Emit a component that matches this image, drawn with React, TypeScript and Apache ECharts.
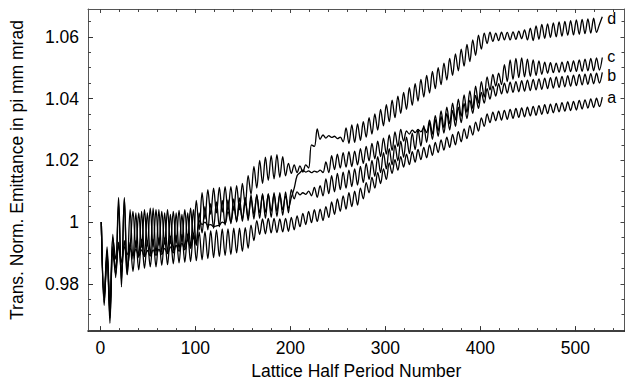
import React, { useEffect, useRef } from "react";
import * as echarts from "echarts";

// Lattice half period number sampled every X_STEP half periods, starting at X_START
const X_START = 1;
const X_STEP = 3.03;

const seriesNames = ["a", "b", "c", "d"];

const emitA = [
  1.0000, 0.9730, 0.9910, 0.9690, 0.9905, 0.9830, 0.9935, 0.9835, 0.9940, 0.9830,
  0.9935, 0.9840, 0.9940, 0.9845, 0.9945, 0.9850, 0.9940, 0.9855, 0.9945, 0.9855,
  0.9950, 0.9860, 0.9950, 0.9862, 0.9955, 0.9865, 0.9958, 0.9868, 0.9960, 0.9870,
  0.9962, 0.9872, 0.9965, 0.9875, 0.9968, 0.9878, 0.9970, 0.9882, 0.9972, 0.9885,
  0.9975, 0.9888, 0.9978, 0.9892, 0.9978, 0.9895, 0.9980, 0.9900, 0.9980, 0.9905,
  0.9982, 0.9915, 0.9990, 0.9940, 1.0005, 0.9960, 1.0010, 0.9962, 1.0012, 0.9965,
  1.0012, 0.9966, 1.0010, 0.9968, 1.0012, 0.9970, 1.0015, 0.9975, 1.0020, 0.9985,
  1.0028, 0.9992, 1.0035, 0.9998, 1.0040, 1.0002, 1.0042, 1.0005, 1.0050, 1.0015,
  1.0065, 1.0025, 1.0075, 1.0035, 1.0085, 1.0042, 1.0095, 1.0050, 1.0100, 1.0055,
  1.0110, 1.0075, 1.0128, 1.0095, 1.0145, 1.0110, 1.0160, 1.0125, 1.0172, 1.0138,
  1.0192, 1.0158, 1.0202, 1.0168, 1.0212, 1.0178, 1.0220, 1.0186, 1.0228, 1.0194,
  1.0235, 1.0202, 1.0242, 1.0208, 1.0250, 1.0216, 1.0258, 1.0225, 1.0266, 1.0233,
  1.0275, 1.0242, 1.0284, 1.0250, 1.0293, 1.0260, 1.0302, 1.0270, 1.0312, 1.0282,
  1.0324, 1.0295, 1.0337, 1.0310, 1.0350, 1.0322, 1.0356, 1.0328, 1.0359, 1.0330,
  1.0362, 1.0333, 1.0365, 1.0336, 1.0368, 1.0339, 1.0370, 1.0341, 1.0372, 1.0344,
  1.0375, 1.0346, 1.0377, 1.0349, 1.0380, 1.0351, 1.0382, 1.0354, 1.0384, 1.0357,
  1.0387, 1.0359, 1.0389, 1.0361, 1.0391, 1.0363, 1.0394, 1.0366, 1.0396, 1.0369,
  1.0399, 1.0371, 1.0401, 1.0374, 1.0405,
];

const emitB = [
  1.0000, 0.9755, 0.9890, 0.9710, 0.9920, 0.9850, 0.9925, 0.9870, 0.9920, 0.9895,
  0.9915, 0.9892, 0.9912, 0.9890, 0.9910, 0.9888, 0.9908, 0.9890, 0.9910, 0.9892,
  0.9912, 0.9895, 0.9915, 0.9898, 0.9920, 0.9900, 0.9925, 0.9905, 0.9932, 0.9910,
  0.9945, 0.9915, 0.9960, 0.9925, 1.0030, 0.9965, 1.0050, 0.9975, 1.0060, 0.9980,
  1.0065, 0.9985, 1.0070, 0.9990, 1.0072, 0.9995, 1.0075, 1.0000, 1.0078, 1.0002,
  1.0080, 1.0005, 1.0088, 1.0010, 1.0090, 1.0012, 1.0092, 1.0012, 1.0092, 1.0015,
  1.0095, 1.0018, 1.0095, 1.0022, 1.0098, 1.0030, 1.0105, 1.0075, 1.0098, 1.0088,
  1.0095, 1.0090, 1.0100, 1.0085, 1.0112, 1.0080, 1.0118, 1.0085, 1.0140, 1.0092,
  1.0150, 1.0098, 1.0158, 1.0105, 1.0162, 1.0110, 1.0168, 1.0115, 1.0172, 1.0120,
  1.0180, 1.0128, 1.0190, 1.0138, 1.0200, 1.0148, 1.0212, 1.0160, 1.0225, 1.0172,
  1.0238, 1.0185, 1.0250, 1.0198, 1.0262, 1.0210, 1.0275, 1.0222, 1.0288, 1.0235,
  1.0300, 1.0246, 1.0312, 1.0258, 1.0322, 1.0268, 1.0332, 1.0278, 1.0342, 1.0288,
  1.0352, 1.0298, 1.0362, 1.0310, 1.0372, 1.0322, 1.0384, 1.0335, 1.0395, 1.0352,
  1.0410, 1.0368, 1.0420, 1.0385, 1.0432, 1.0398, 1.0440, 1.0408, 1.0448, 1.0415,
  1.0450, 1.0418, 1.0453, 1.0420, 1.0455, 1.0422, 1.0458, 1.0424, 1.0460, 1.0426,
  1.0462, 1.0428, 1.0464, 1.0430, 1.0466, 1.0432, 1.0468, 1.0434, 1.0470, 1.0436,
  1.0472, 1.0438, 1.0474, 1.0440, 1.0476, 1.0442, 1.0478, 1.0444, 1.0479, 1.0446,
  1.0481, 1.0448, 1.0482, 1.0450, 1.0485,
];

const emitC = [
  1.0000, 0.9760, 0.9920, 0.9725, 0.9950, 0.9880, 1.0080, 0.9790, 1.0080, 0.9830,
  1.0040, 0.9880, 1.0030, 0.9885, 1.0035, 0.9890, 1.0030, 0.9892, 1.0045, 0.9895,
  1.0040, 0.9898, 1.0030, 0.9900, 1.0025, 0.9905, 1.0030, 0.9910, 1.0025, 0.9915,
  1.0030, 0.9920, 1.0040, 0.9930, 1.0005, 0.9992, 1.0000, 0.9990, 0.9992, 0.9985,
  0.9988, 0.9990, 1.0000, 0.9995, 1.0035, 1.0000, 1.0050, 1.0005, 1.0060, 1.0010,
  1.0065, 1.0015, 1.0075, 1.0025, 1.0085, 1.0030, 1.0088, 1.0032, 1.0090, 1.0035,
  1.0090, 1.0035, 1.0088, 1.0040, 1.0085, 1.0045, 1.0080, 1.0110, 1.0150, 1.0160,
  1.0168, 1.0162, 1.0166, 1.0160, 1.0165, 1.0162, 1.0168, 1.0160, 1.0195, 1.0160,
  1.0215, 1.0170, 1.0220, 1.0175, 1.0225, 1.0178, 1.0228, 1.0180, 1.0230, 1.0185,
  1.0238, 1.0190, 1.0245, 1.0198, 1.0255, 1.0205, 1.0262, 1.0212, 1.0272, 1.0220,
  1.0282, 1.0232, 1.0292, 1.0245, 1.0300, 1.0262, 1.0295, 1.0285, 1.0298, 1.0290,
  1.0300, 1.0292, 1.0305, 1.0290, 1.0330, 1.0285, 1.0345, 1.0295, 1.0360, 1.0305,
  1.0372, 1.0318, 1.0385, 1.0330, 1.0398, 1.0342, 1.0412, 1.0355, 1.0425, 1.0368,
  1.0440, 1.0385, 1.0455, 1.0405, 1.0470, 1.0428, 1.0478, 1.0440, 1.0482, 1.0445,
  1.0510, 1.0455, 1.0525, 1.0462, 1.0530, 1.0468, 1.0532, 1.0470, 1.0528, 1.0472,
  1.0525, 1.0475, 1.0522, 1.0478, 1.0518, 1.0482, 1.0516, 1.0484, 1.0515, 1.0485,
  1.0518, 1.0486, 1.0520, 1.0487, 1.0522, 1.0488, 1.0525, 1.0488, 1.0528, 1.0490,
  1.0530, 1.0490, 1.0532, 1.0492, 1.0533,
];

const emitD = [
  1.0000, 0.9740, 0.9900, 0.9672, 0.9960, 0.9820, 1.0060, 0.9810, 1.0075, 0.9850,
  0.9920, 1.0035, 0.9915, 1.0030, 0.9918, 1.0040, 0.9922, 1.0045, 0.9920, 1.0040,
  0.9925, 1.0035, 0.9928, 1.0040, 0.9930, 1.0035, 0.9932, 1.0038, 0.9935, 1.0040,
  0.9938, 1.0045, 0.9945, 1.0070, 0.9975, 1.0095, 1.0010, 1.0105, 1.0025, 1.0110,
  1.0030, 1.0112, 1.0032, 1.0115, 1.0035, 1.0115, 1.0038, 1.0118, 1.0040, 1.0125,
  1.0055, 1.0150, 1.0090, 1.0180, 1.0110, 1.0200, 1.0125, 1.0210, 1.0135, 1.0215,
  1.0140, 1.0218, 1.0145, 1.0212, 1.0150, 1.0190, 1.0158, 1.0185, 1.0160, 1.0182,
  1.0162, 1.0185, 1.0175, 1.0250, 1.0245, 1.0302, 1.0268, 1.0282, 1.0272, 1.0280,
  1.0274, 1.0278, 1.0270, 1.0275, 1.0260, 1.0305, 1.0255, 1.0315, 1.0258, 1.0318,
  1.0265, 1.0325, 1.0275, 1.0338, 1.0285, 1.0350, 1.0298, 1.0365, 1.0312, 1.0380,
  1.0325, 1.0395, 1.0338, 1.0408, 1.0352, 1.0420, 1.0365, 1.0435, 1.0378, 1.0448,
  1.0392, 1.0462, 1.0405, 1.0475, 1.0418, 1.0488, 1.0432, 1.0500, 1.0445, 1.0515,
  1.0460, 1.0530, 1.0475, 1.0545, 1.0490, 1.0560, 1.0505, 1.0575, 1.0520, 1.0590,
  1.0540, 1.0605, 1.0560, 1.0612, 1.0578, 1.0615, 1.0585, 1.0612, 1.0588, 1.0615,
  1.0590, 1.0614, 1.0590, 1.0616, 1.0592, 1.0618, 1.0594, 1.0622, 1.0590, 1.0628,
  1.0588, 1.0635, 1.0592, 1.0640, 1.0595, 1.0642, 1.0598, 1.0645, 1.0600, 1.0648,
  1.0602, 1.0650, 1.0605, 1.0652, 1.0606, 1.0655, 1.0608, 1.0656, 1.0610, 1.0658,
  1.0612, 1.0660, 1.0614, 1.0640, 1.0665,
];

// vertical nudges of the end labels (px)
const labelOffsets = [[0, 0], [0, 3], [0, -1], [0, 2]];

const xMajorTicks = [0, 100, 200, 300, 400, 500];
const xMinorTicks = [20, 40, 60, 80, 120, 140, 160, 180, 220, 240, 260, 280, 320, 340, 360, 380, 420, 440, 460, 480, 520, 540];
const yMajorTicks = [0.98, 1.0, 1.02, 1.04, 1.06];
const yMinorTicks = [0.965, 0.97, 0.975, 0.985, 0.99, 0.995, 1.005, 1.01, 1.015, 1.025, 1.03, 1.035, 1.045, 1.05, 1.055, 1.065];

const xTitle = "Lattice Half Period Number";
const yTitle = "Trans. Norm. Emittance in pi mm mrad";

const X_MIN = -13;
const X_MAX = 551.6;
const Y_MIN = 0.9647;
const Y_MAX = 1.0690;

const FONT = "'Liberation Sans', Arial, Helvetica, sans-serif";
const FS = 17.5;

export default function App() {
  const ref = useRef<HTMLDivElement>(null);

  useEffect(() => {
    if (!ref.current) return;
    const chart = echarts.init(ref.current, null, { renderer: "svg" });
    const all = [emitA, emitB, emitC, emitD];

    const tickAxis = (
      kind: "x" | "y",
      position: string,
      values: number[],
      len: number,
      showLine: boolean,
      lineColor: string,
      lineWidth: number
    ) => ({
      type: "value",
      gridIndex: 0,
      position,
      min: kind === "x" ? X_MIN : Y_MIN,
      max: kind === "x" ? X_MAX : Y_MAX,
      axisLine: { show: showLine, onZero: false, lineStyle: { color: lineColor, width: lineWidth } },
      axisTick: { show: true, inside: true, length: len, customValues: values, lineStyle: { color: "#444", width: 1 } },
      axisLabel: { show: false },
      splitLine: { show: false },
      minorTick: { show: false },
    });

    const option: any = {
      animation: false,
      backgroundColor: "#fff",
      grid: { left: 86, top: 9, width: 538.5, height: 334, containLabel: false },
      xAxis: [
        {
          type: "value",
          position: "bottom",
          min: X_MIN,
          max: X_MAX,
          axisLine: { show: true, onZero: false, lineStyle: { color: "#000", width: 1.5 } },
          axisTick: { show: true, inside: true, length: 5, customValues: xMajorTicks, lineStyle: { color: "#333", width: 1 } },
          axisLabel: {
            customValues: xMajorTicks,
            margin: 8,
            color: "#000",
            fontFamily: FONT,
            fontSize: FS,
            formatter: (v: number) => String(v),
          },
          splitLine: { show: false },
          name: xTitle,
          nameLocation: "middle",
          nameGap: 26,
          nameTextStyle: { color: "#000", fontFamily: FONT, fontSize: FS },
        },
        tickAxis("x", "bottom", xMinorTicks, 3, false, "#000", 1),
        tickAxis("x", "top", xMajorTicks, 4, true, "#555", 1),
        tickAxis("x", "top", xMinorTicks, 3, false, "#555", 1),
      ],
      yAxis: [
        {
          type: "value",
          position: "left",
          min: Y_MIN,
          max: Y_MAX,
          axisLine: { show: true, onZero: false, lineStyle: { color: "#555", width: 1 } },
          axisTick: { show: true, inside: true, length: 5, customValues: yMajorTicks, lineStyle: { color: "#333", width: 1 } },
          axisLabel: {
            customValues: yMajorTicks,
            margin: 9,
            color: "#000",
            fontFamily: FONT,
            fontSize: FS,
            formatter: (v: number) => String(Number(v.toFixed(2))),
          },
          splitLine: { show: false },
          name: yTitle,
          nameLocation: "middle",
          nameGap: 62,
          nameTextStyle: { color: "#000", fontFamily: FONT, fontSize: FS },
        },
        tickAxis("y", "left", yMinorTicks, 3, false, "#555", 1),
        tickAxis("y", "right", yMajorTicks, 4, true, "#555", 1),
        tickAxis("y", "right", yMinorTicks, 3, false, "#555", 1),
      ],
      series: all.map((vals, k) => ({
        type: "line",
        name: seriesNames[k],
        xAxisIndex: 0,
        yAxisIndex: 0,
        showSymbol: false,
        symbol: "none",
        smooth: 0.35,
        data: vals.map((v, i) => [X_START + i * X_STEP, v]),
        lineStyle: { color: "#000", width: 1.3 },
        endLabel: {
          show: true,
          formatter: seriesNames[k],
          distance: 5,
          offset: labelOffsets[k],
          color: "#000",
          fontFamily: FONT,
          fontSize: 16,
          lineHeight: 16,
        },
      })),
    };

    chart.setOption(option);
    return () => chart.dispose();
  }, []);

  return (
    <div
      ref={ref}
      style={{ position: "fixed", left: 0, top: 0, width: 625, height: 385, background: "#fff" }}
    />
  );
}
